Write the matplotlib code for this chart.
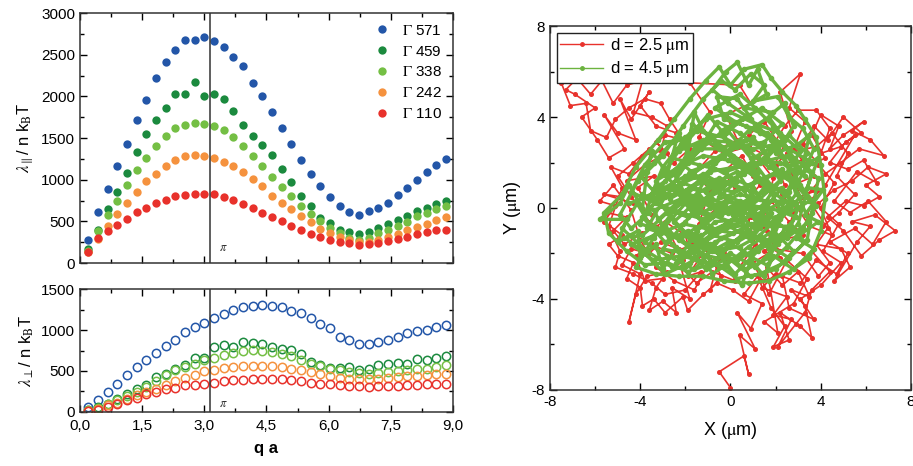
import numpy as np
import matplotlib
matplotlib.use("Agg")
import matplotlib.pyplot as plt
from matplotlib.ticker import MultipleLocator, FuncFormatter

plt.rcParams["font.family"] = ["Liberation Sans", "DejaVu Sans"]
plt.rcParams["mathtext.fontset"] = "stix"
plt.rcParams["axes.unicode_minus"] = False
plt.rcParams["xtick.direction"] = "in"
plt.rcParams["ytick.direction"] = "in"

# ---------------- data: left panels ----------------
qa = [0.20, 0.43, 0.67, 0.90, 1.13, 1.37, 1.60, 1.83, 2.07, 2.30, 2.53, 2.77, 3.00,
      3.24, 3.47, 3.70, 3.94, 4.17, 4.40, 4.64, 4.87, 5.10, 5.34, 5.57, 5.80, 6.04,
      6.27, 6.50, 6.74, 6.97, 7.20, 7.44, 7.67, 7.90, 8.14, 8.37, 8.60, 8.84]

gammas = ["571", "459", "338", "242", "110"]

par_571 = [280, 612, 888, 1160, 1432, 1716, 1960, 2216, 2416, 2552, 2672, 2672, 2708,
           2664, 2592, 2476, 2360, 2160, 2008, 1808, 1620, 1424, 1240, 1068, 920, 792,
           688, 616, 580, 628, 656, 720, 816, 896, 996, 1088, 1172, 1248]
par_459 = [168, 400, 648, 848, 1084, 1332, 1544, 1712, 1856, 2032, 2032, 2168, 2000,
           2032, 1964, 1824, 1656, 1528, 1412, 1300, 1128, 976, 800, 680, 540, 480,
           392, 372, 344, 372, 420, 472, 520, 568, 620, 664, 712, 744]
par_338 = [150, 390, 576, 740, 936, 1120, 1260, 1400, 1520, 1620, 1660, 1680, 1672,
           1640, 1592, 1512, 1400, 1288, 1168, 1028, 912, 800, 680, 592, 500, 420,
           360, 300, 280, 300, 360, 400, 440, 496, 560, 600, 648, 688]
par_242 = [132, 288, 440, 592, 720, 848, 980, 1072, 1168, 1240, 1280, 1296, 1288,
           1256, 1208, 1160, 1088, 1012, 920, 808, 724, 648, 560, 488, 408, 360,
           312, 272, 248, 256, 280, 312, 352, 392, 428, 472, 520, 552]
par_110 = [132, 296, 388, 452, 528, 608, 656, 724, 760, 800, 816, 832, 832,
           824, 788, 760, 712, 664, 600, 552, 504, 448, 400, 348, 312, 280,
           248, 240, 220, 228, 240, 264, 288, 312, 344, 372, 400, 400]

perp_571 = [61, 143, 245, 346, 448, 550, 640, 725, 803, 876, 970, 1031, 1088,
            1149, 1194, 1243, 1276, 1292, 1304, 1296, 1276, 1235, 1202, 1149, 1072, 1019,
            917, 876, 827, 827, 856, 876, 917, 958, 986, 999, 1031, 1060]
perp_459 = [20, 61, 102, 163, 216, 277, 326, 428, 461, 530, 571, 660, 664,
            787, 815, 795, 856, 844, 827, 787, 774, 754, 705, 611, 571, 542,
            538, 550, 518, 530, 579, 591, 603, 591, 648, 640, 664, 681]
perp_338 = [20, 53, 102, 143, 192, 245, 306, 379, 448, 510, 550, 591, 632,
            664, 693, 721, 742, 754, 742, 734, 713, 681, 632, 591, 558, 530,
            510, 489, 477, 469, 477, 489, 501, 510, 522, 530, 550, 571]
perp_242 = [12, 41, 82, 114, 155, 204, 245, 285, 334, 375, 420, 457, 497,
            518, 542, 550, 562, 567, 567, 558, 550, 530, 510, 489, 461, 436,
            420, 408, 399, 399, 408, 416, 428, 436, 444, 457, 461, 469]
perp_110 = [8, 29, 61, 94, 143, 175, 216, 245, 277, 298, 326, 326, 346,
            355, 375, 387, 395, 408, 408, 408, 399, 387, 375, 359, 346, 338,
            326, 318, 314, 306, 314, 314, 318, 326, 334, 338, 346, 346]

par_series = [par_571, par_459, par_338, par_242, par_110]
perp_series = [perp_571, perp_459, perp_338, perp_242, perp_110]
colors = ["#2356a8", "#1b8a3e", "#74bf44", "#f5923e", "#e8312b"]

# ---------------- data: trajectories (um) ----------------
red_xy = np.array([
    (0.0, -7.9), (-0.5, -7.2), (0.6, -6.5), (0.8, -7.3), (0.4, -5.6), (1.1, -6.2), (0.3, -4.6),
    (0.9, -5.3), (1.4, -4.2), (0.6, -3.8), (1.2, -3.0), (1.8, -4.4), (2.4, -5.2), (1.9, -6.1),
    (2.6, -5.8), (2.2, -4.6), (3.1, -5.2), (3.6, -5.7), (3.3, -4.3), (2.7, -3.6), (3.5, -3.9),
    (3.0, -2.8), (2.3, -3.4), (1.6, -2.6), (2.1, -5.5), (1.5, -5.0), (2.8, -4.2), (3.4, -3.1),
    (2.5, -2.3), (1.7, -3.8), (1.0, -2.4), (2.0, -1.8), (3.2, -2.0), (3.9, -3.0), (4.4, -2.4),
    (3.8, -1.6), (4.9, -1.8), (5.3, -2.6), (4.6, -3.2), (5.6, -1.5), (6.2, -0.8), (5.4, -0.6),
    (6.4, -0.3), (7.3, -1.0), (6.6, -1.4), (5.8, -2.1), (5.0, -1.0), (4.3, -0.4), (5.1, 0.3),
    (5.9, 0.1), (6.6, 0.5), (6.0, 1.0), (6.9, 1.5), (6.1, 1.8), (5.4, 1.2), (4.6, 0.8),
    (3.9, 0.2), (4.5, -1.2), (3.5, -0.8), (2.9, 0.1), (3.6, 0.8), (4.2, 1.5), (4.9, 2.0),
    (5.7, 2.6), (6.8, 2.3), (6.2, 3.0), (5.4, 3.4), (5.9, 3.8), (5.0, 3.2), (4.4, 2.6),
    (4.8, 3.6), (4.0, 4.1), (3.6, 3.2), (4.2, 2.2), (3.4, 1.8), (2.8, 2.6), (3.3, 3.8),
    (2.6, 4.4), (3.1, 5.9), (2.2, 5.1), (2.7, 3.4), (2.0, 2.0), (2.4, 1.0), (1.8, 0.3),
    (2.6, -0.6), (3.2, -1.2), (2.2, -1.4), (1.4, -0.8), (1.9, 1.3), (1.2, 2.2), (2.1, 2.9),
    (1.5, 3.8), (0.8, 3.2), (1.3, 1.0), (0.6, 0.2), (1.1, -1.6), (0.4, -2.6), (-0.3, -2.0),
    (0.2, -3.2), (-0.8, -2.8), (-1.5, -3.3), (-2.2, -2.6), (-1.8, -4.0), (-2.6, -3.5),
    (-2.4, -4.6), (-3.0, -4.1), (-3.6, -4.5), (-3.3, -3.5), (-2.8, -2.8), (-3.7, -3.0),
    (-4.2, -3.8), (-4.5, -5.0), (-4.0, -2.9), (-4.8, -2.5), (-4.4, -1.8), (-3.6, -2.0),
    (-3.1, -1.5), (-2.3, -1.8), (-1.7, -2.3), (-2.0, -1.2), (-2.9, -0.6), (-3.9, -1.1),
    (-4.7, -1.6), (-5.2, -1.0), (-4.6, -0.4), (-5.5, -0.2), (-4.9, 0.5), (-5.6, 0.6),
    (-4.3, 0.2), (-3.5, -0.3), (-4.1, 0.9), (-3.4, 1.4), (-4.6, 1.2), (-3.8, 1.9),
    (-2.8, 2.4), (-3.3, 2.9), (-2.5, 2.0), (-1.8, 2.6), (-2.4, 3.3), (-3.3, 3.6),
    (-4.0, 4.5), (-3.6, 5.1), (-4.4, 3.9), (-4.9, 4.8), (-4.2, 3.0), (-5.0, 3.3),
    (-5.6, 4.1), (-4.7, 2.6), (-5.4, 2.2), (-5.9, 3.0), (-6.6, 4.0), (-6.0, 4.4),
    (-6.9, 5.0), (-7.3, 5.2), (-6.8, 5.7), (-6.2, 5.0), (-5.7, 5.6), (-5.2, 4.6),
    (-4.6, 5.4), (-3.9, 5.6), (-4.3, 4.2), (-3.5, 4.0), (-2.8, 3.6), (-3.1, 2.5),
    (-3.9, 2.3), (-4.5, 1.5), (-5.3, 1.8), (-4.8, 0.9), (-5.4, -0.8), (-4.9, -1.9),
    (-5.1, -2.6), (-4.3, -2.9), (-3.5, -3.3), (-2.9, -3.8), (-2.0, -3.6), (-1.3, -2.8),
    (-1.9, -3.0), (-1.1, -1.8), (-0.4, -3.0), (-0.9, -3.6), (-0.5, -2.2), (0.3, -1.4),
    (0.9, -0.4), (1.6, -1.0), (2.2, -2.2), (1.5, -1.9), (2.5, -1.1), (2.8, -0.2),
    (2.3, 0.6), (3.0, 1.1), (3.7, 1.4), (3.2, 2.1), (2.0, 1.9), (2.5, 2.4), (3.8, 2.7),
    (4.5, 3.3), (5.2, 2.4), (4.7, 1.4), (5.5, 0.6), (4.8, -0.2), (4.1, -0.8), (3.4, -0.3),
    (3.9, 0.8), (3.1, 0.5), (2.7, 1.6), (1.7, 0.8), (1.0, 1.4), (0.5, 2.3), (-0.3, 1.6),
    (0.2, 0.8), (-0.6, 0.0), (-1.4, -0.7), (-0.9, 0.8), (-1.6, 1.5), (-0.7, 2.5),
    (0.3, 3.0), (-0.2, 4.1), (0.9, 4.6), (0.4, 5.4), (-1.8, 5.5), (-0.9, 4.2), (-1.4, 3.1),
    (-0.3, 2.4), (0.8, 2.7), (1.6, 2.3), (2.4, 3.6), (3.0, 4.3), (3.8, 4.3), (4.4, 3.5),
    (4.0, 2.4), (4.9, 2.7), (5.5, 3.2), (4.2, 1.0), (3.5, 0.3), (4.3, -0.9), (3.6, -1.9),
    (4.4, -2.8), (3.6, -3.6), (3.3, -4.6), (2.9, -5.1), (2.1, -6.1),
    (2.7, -4.9), (1.9, -4.7), (2.5, -3.9), (1.4, -3.5), (2.0, -2.9), (3.1, -3.3), (3.8, -2.3),
    (4.7, -2.9), (5.2, -2.0), (4.4, -1.5), (5.5, -0.9), (6.3, -1.6), (6.9, -0.6), (6.1, 0.3),
    (5.3, -0.2), (4.6, 0.3), (5.6, 1.6), (6.5, 1.1), (5.9, 2.1), (5.2, 1.7), (4.4, 2.0),
    (5.1, 2.9), (5.8, 3.3), (5.0, 4.0), (4.3, 3.0), (3.7, 3.6), (3.2, 2.8), (3.9, 1.9),
    (4.6, 1.1), (4.0, 0.0), (4.8, -0.7), (4.1, -1.9), (4.9, -2.4), (4.0, -3.4), (3.1, -4.0),
    (3.7, -4.9), (2.6, -4.4), (2.3, -3.0), (1.3, -3.2), (0.8, -4.1), (0.1, -3.6), (-0.6, -3.3),
    (-1.2, -3.8), (-1.9, -4.5), (-2.1, -3.9), (-2.9, -4.6), (-3.4, -4.0), (-3.9, -4.3),
    (-4.0, -3.5), (-4.6, -3.1), (-4.3, -2.4), (-5.0, -2.1), (-5.4, -1.6), (-4.8, -1.2),
    (-5.6, -0.6), (-5.1, 0.1), (-5.8, 0.3), (-5.2, 1.0), (-4.4, -0.1), (-4.0, -1.4),
    (-3.3, -2.6), (-2.5, -3.2), (-1.6, -3.6), (-1.0, -2.5), (-1.7, -1.6), (-2.6, -2.0),
    (-3.5, -1.6), (-4.2, -2.1), (-3.8, -3.2), (-3.0, -3.1), (-2.1, -2.3), (-2.7, -1.1),
    (-3.6, -0.6), (-4.4, 0.5), (-5.0, 1.4), (-4.3, 2.0), (-3.6, 2.6), (-2.9, 3.2),
    (-2.1, 3.0), (-2.7, 3.9), (-3.1, 4.6), (-3.8, 4.8), (-4.5, 4.4), (-5.1, 3.9),
    (-5.5, 3.1), (-6.2, 3.4), (-6.4, 4.6), (-7.1, 4.5), (-7.5, 5.5),
])

green_xy = np.array([
    (-0.5, 0.5), (0.3, 1.2), (-0.8, 1.8), (-1.5, 0.6), (-0.4, -0.3), (0.8, 0.4), (1.2, 1.6),
    (0.1, 2.3), (-1.0, 2.9), (-1.9, 2.0), (-2.6, 1.0), (-1.7, -0.2), (-0.6, -1.0), (0.5, -0.6),
    (1.5, 0.2), (2.2, 1.2), (1.4, 2.6), (0.4, 3.3), (-0.6, 3.8), (-1.3, 2.7), (-2.2, 2.8),
    (-3.0, 1.8), (-3.5, 0.6), (-2.6, -0.4), (-1.8, -1.4), (-0.7, -1.9), (0.4, -1.7), (1.3, -1.2),
    (2.1, -0.4), (2.9, 0.6), (2.5, 1.9), (1.8, 3.0), (0.9, 3.9), (-0.1, 4.6), (-0.8, 5.2),
    (-0.2, 6.0), (0.3, 6.4), (0.8, 5.4), (1.2, 6.1), (1.6, 5.0), (0.6, 4.4), (1.9, 4.2),
    (2.4, 4.6), (2.8, 3.6), (2.0, 2.4), (3.0, 2.8), (3.5, 3.2), (3.2, 1.9), (3.9, 2.2),
    (3.4, 0.9), (4.1, 0.8), (3.3, -0.3), (3.9, -0.6), (2.9, -1.3), (3.7, -1.8), (2.8, -2.7),
    (1.9, -2.1), (1.5, -3.0), (0.9, -2.3), (0.5, -3.4), (-0.2, -2.5), (-0.8, -2.9), (-1.3, -2.0),
    (-2.0, -2.6), (-2.4, -1.7), (-3.0, -2.7), (-3.3, -1.6), (-4.0, -2.2), (-4.1, -1.0),
    (-5.0, -1.5), (-4.6, -0.5), (-5.8, -0.5), (-4.9, 0.2), (-4.5, 1.0), (-3.9, 0.0),
    (-3.7, 1.6), (-3.5, 2.5), (-2.8, 1.5), (-2.3, 3.3), (-1.9, 2.4), (-1.6, 4.2), (-1.2, 3.4),
    (-0.4, 2.6), (0.5, 1.8), (1.4, 1.1), (2.4, 0.3), (1.9, -0.9), (1.0, -0.1), (0.0, 0.3),
    (-1.0, -0.4), (-2.0, 0.2), (-2.9, -0.8), (-3.8, -1.5), (-2.8, -2.1), (-1.6, -2.7),
    (-0.4, -1.3), (0.7, -0.9), (1.7, -1.8), (2.6, -1.0), (3.0, 0.0), (2.3, 0.9), (1.2, 0.6),
    (0.2, 1.0), (-0.9, 1.2), (-2.0, 1.4), (-3.1, 0.8), (-4.2, 0.3), (-3.6, -0.7), (-2.5, -1.2),
    (-1.3, -1.2), (-0.2, -0.7), (0.9, -1.4), (1.6, -0.5), (2.6, -0.2), (3.5, 0.3), (2.7, 1.3),
    (1.7, 1.8), (0.8, 2.5), (-0.3, 3.1), (-1.5, 3.4), (-2.6, 2.2), (-1.4, 1.9), (-0.2, 1.6),
    (1.0, 2.0), (2.2, 2.0), (3.3, 1.4), (2.4, 2.7), (1.3, 3.3), (0.2, 3.8), (-0.7, 4.4),
    (0.4, 5.0), (1.1, 4.4), (1.9, 3.6), (2.8, 2.2), (3.6, 1.6), (3.0, -0.7), (2.1, -1.6),
    (1.1, -2.6), (0.0, -2.0), (-1.0, -2.4), (-2.2, -2.1), (-3.4, -2.3), (-4.4, -1.6),
    (-3.1, -1.1), (-2.1, -0.7), (-1.1, -0.9), (0.1, -1.1), (1.2, -0.6), (0.6, 0.8),
    (-0.5, 1.3), (-1.6, 1.0), (-2.7, 0.4), (-3.3, 1.2), (-2.3, 1.8), (-1.2, 2.3), (-0.1, 2.1),
    (1.1, 1.4), (2.0, 0.6), (1.4, -0.3), (0.3, -0.2), (-0.8, 0.4), (-1.9, -0.4), (-2.9, 0.0),
    (-3.9, 0.6), (-4.8, -0.9), (-3.7, -1.9), (-2.6, -2.6), (-1.5, -1.8), (-0.5, -2.6),
    (0.6, -2.0), (1.6, -2.5), (2.5, -1.7), (3.2, -0.9), (3.8, 0.1), (3.1, 1.0), (2.0, 1.5),
    (0.9, 1.0), (-0.2, 0.5), (-1.3, 0.1), (-2.4, 0.7), (-1.8, 1.6), (-0.7, 2.0), (0.3, 2.7),
    (1.5, 2.9), (2.3, 3.7), (1.4, 4.4), (0.5, 3.9), (-0.4, 3.4), (-1.0, 4.1), (-1.9, 3.0),
    (-2.9, 2.9), (-3.8, 1.9), (-4.4, 0.7), (-3.3, 0.2), (-2.2, -0.2), (-1.2, -0.5),
    (-0.1, -0.2), (1.0, 0.1), (2.1, -0.1), (2.9, -0.4), (2.2, -1.2), (1.2, -1.9), (0.2, -2.9),
    (-0.9, -1.6), (-1.9, -1.0), (-2.9, -1.5), (-3.9, -0.4), (-2.8, 0.9), (-1.7, 0.4),
    (-0.6, 0.1), (0.5, -0.3), (1.5, 0.9), (2.6, 0.7), (3.4, 2.4), (2.6, 3.2), (1.6, 2.2),
    (0.6, 1.5), (-0.6, 0.9), (-1.7, -0.1), (-0.8, -1.2), (0.3, -1.5), (1.3, -0.9), (0.7, 0.1),
    (-0.4, -0.1), (-1.5, 0.3), (-2.5, -0.6), (-1.4, -1.6), (-0.3, -1.8), (0.8, -1.0),
    (1.8, -0.2), (1.0, 0.9), (-0.1, 1.4), (-1.1, 0.7), (-2.1, 1.1), (-1.2, 1.5), (-0.3, 1.0),
    (0.9, 1.7), (1.9, 2.6), (0.7, 3.0), (-0.5, 2.6), (-1.6, 2.6), (-2.5, 1.5), (-1.5, -0.3),
    (-0.4, 0.2), (0.6, -0.5), (-0.7, -0.6), (-1.8, -1.9), (-0.6, -2.2), (0.5, -1.2),
    (1.7, -1.4), (2.7, 0.3), (1.6, 0.3), (0.4, 0.6), (-0.9, 0.0),
    (-1.6, 0.9), (-2.4, 0.2), (-3.2, -0.5), (-2.3, -1.4), (-1.2, -2.1), (-0.1, -1.5),
    (0.9, -2.1), (1.9, -1.3), (2.3, -0.3), (1.6, 1.1), (0.5, 2.0), (-0.6, 2.9), (-1.7, 3.7),
    (-2.0, 2.2), (-2.9, 1.2), (-3.6, -0.2), (-4.4, -0.9), (-4.9, -0.3), (-4.1, 1.2),
    (-3.0, 2.3), (-2.1, 3.6), (-1.2, 4.8), (-0.4, 5.6), (0.2, 5.2), (0.9, 5.9), (1.5, 5.4),
    (1.0, 4.7), (2.1, 4.9), (2.6, 4.0), (3.2, 3.5), (3.7, 2.6), (3.3, 1.7), (3.9, 1.3),
    (3.6, -0.2), (3.4, -1.4), (2.4, -2.4), (1.3, -2.9), (0.3, -3.1), (-0.7, -2.4),
    (-1.9, -2.8), (-2.8, -2.4), (-3.8, -2.5), (-4.6, -1.9), (-5.4, -1.1), (-5.6, -0.2),
    (-4.8, 0.6), (-4.2, 1.8), (-3.2, 3.0), (-2.5, 3.9), (-1.8, 4.8), (-1.1, 5.6), (-0.5, 6.2),
    (0.0, 5.4), (0.6, 6.1), (1.4, 6.3), (1.8, 5.7), (2.3, 5.1), (2.9, 4.5), (3.3, 3.9),
    (3.8, 3.1), (4.0, 1.9), (4.2, 0.4), (4.0, -1.0), (3.5, -2.2), (2.6, -2.8), (1.7, -3.2),
    (0.8, -3.3), (-0.3, -3.2), (-1.2, -3.0), (-2.3, -3.0), (-3.3, -2.9), (-4.2, -2.6),
    (-3.4, -1.3), (-2.5, -0.1), (-1.4, 1.2), (-0.3, 2.3), (0.8, 3.4), (1.7, 4.0), (2.4, 3.0),
    (1.2, 2.3), (0.2, 1.3), (-0.9, 0.5), (-2.0, -0.6), (-3.0, -1.8), (-2.0, -2.0),
    (-0.9, -1.2), (0.2, -0.4), (1.3, 0.4), (2.4, 1.4), (3.1, 2.5), (2.2, 3.3), (1.1, 3.7),
    (0.0, 4.2), (-1.1, 3.9), (-2.0, 3.1), (-2.6, 2.9), (-3.4, 2.0), (-4.0, 1.4), (-3.1, 0.4),
    (-2.2, 1.1), (-1.1, 1.9), (0.0, 2.6), (1.0, 3.1), (1.9, 1.9), (2.8, 1.0), (3.5, -0.6),
    (2.5, -1.3), (1.4, -1.6), (0.3, -2.3), (-0.8, -1.9), (-1.9, -1.6), (-3.0, -1.0),
    (-4.0, -0.7), (-3.3, 0.9), (-2.3, 1.6), (-1.3, 2.6), (-0.2, 3.5), (0.9, 2.2), (1.8, 1.0),
    (2.9, 0.2), (2.0, -0.6), (0.9, -0.7), (-0.2, -0.9), (-1.3, -1.6), (-2.4, -2.4),
    (-1.5, -1.0), (-0.6, -0.3), (0.4, 0.3), (1.5, -0.1), (2.4, -0.9), (1.7, -2.2), (0.7, -2.7),
    (-0.4, -2.0), (-1.6, -1.3), (-2.7, -1.2), (-3.7, -0.9), (-2.9, 0.5), (-1.9, 0.8),
    (-0.9, 1.6), (0.2, 1.8), (1.3, 2.0), (2.5, 2.3), (3.0, 1.6), (2.2, 0.2), (1.1, -0.3),
    (0.0, -0.6), (-1.1, -0.2), (-2.2, 0.4), (-3.4, -0.1), (-2.6, -1.6), (-1.5, -2.3),
    (-0.3, -2.6), (0.8, -1.7), (1.9, -1.0), (2.8, -1.9), (2.0, -2.7), (0.9, -3.0), (-0.1, -2.2),
    (-1.1, -2.7), (-2.2, -1.3), (-1.1, -0.6), (0.0, 0.0), (1.1, -0.9), (2.2, -0.5), (3.1, 0.5),
    (2.3, 1.7), (1.2, 1.2), (0.1, 0.7), (-1.0, 1.0), (-2.1, 1.9), (-1.3, 2.9), (-0.2, 3.3),
    (0.8, 4.1), (0.3, 4.8), (-0.6, 4.9), (-0.3, 3.9), (0.7, 3.6), (1.6, 3.3), (2.6, 2.6),
    (3.6, 2.0), (3.0, 1.2), (2.0, 2.8), (1.0, 2.6), (-0.1, 2.9), (-1.2, 3.0), (-2.3, 2.5),
    (-3.0, 1.5), (-2.1, 0.7), (-1.0, 0.3), (0.1, -0.3), (1.0, 0.5), (0.3, 1.6), (-0.7, 1.1),
    (-1.7, 0.5), (-2.8, -0.2), (-3.9, -1.2), (-4.7, -1.3), (-3.9, -1.9), (-2.9, -2.9),
    (-1.8, -2.4), (-0.7, -1.5), (0.4, -1.0), (1.5, -1.5), (2.6, -2.2), (3.3, -1.5),
    (2.7, -0.8), (1.6, -0.8), (0.6, 0.2), (-0.5, 0.7), (-1.6, 0.2), (-2.7, 0.9), (-3.7, 0.5),
    (-4.5, 0.2),
])

# ---------------- figure ----------------
fig = plt.figure(figsize=(9.13, 4.66), dpi=100)
ax_top = fig.add_axes([0.0876, 0.4356, 0.4085, 0.5365])
ax_bot = fig.add_axes([0.0876, 0.1159, 0.4085, 0.2639])
ax_rw = fig.add_axes([0.6024, 0.1631, 0.3954, 0.7811])

comma = FuncFormatter(lambda v, p: f"{v:.1f}".replace(".", ","))

for i in range(len(gammas)):
    ax_top.plot(qa, par_series[i], "o", color=colors[i], ms=6, mec="none",
                label=r"$\mathrm{\Gamma}$ " + gammas[i])
    ax_bot.plot(qa, perp_series[i], "o", mfc="none", mec=colors[i], ms=6, mew=1.1)

for ax in (ax_top, ax_bot):
    ax.axvline(np.pi, color="#333333", lw=1.1)
    ax.set_xlim(0, 9)
    ax.xaxis.set_major_locator(MultipleLocator(1.5))
    ax.xaxis.set_minor_locator(MultipleLocator(0.75))
    ax.yaxis.set_major_locator(MultipleLocator(500))
    ax.yaxis.set_minor_locator(MultipleLocator(250))
    ax.tick_params(which="both", top=True, right=True, labelsize=11, width=1.0)
    ax.tick_params(which="major", length=5)
    ax.tick_params(which="minor", length=3)
    for s in ax.spines.values():
        s.set_linewidth(1.1)
        s.set_color("#333333")

ax_top.set_ylim(0, 3000)
ax_top.tick_params(labelbottom=False)
ax_top.text(3.35, 150, r"$\pi$", fontsize=9, color="#333333")
ax_top.set_ylabel(r"$\lambda_{\parallel}$/ n k$_\mathrm{B}$T", fontsize=12, labelpad=4)
ax_top.legend(loc="upper right", frameon=False, fontsize=11, handletextpad=0.8,
              labelspacing=0.45, borderaxespad=0.3, handlelength=1.0)

ax_bot.set_ylim(0, 1500)
ax_bot.xaxis.set_major_formatter(comma)
ax_bot.text(3.35, 60, r"$\pi$", fontsize=9, color="#333333")
ax_bot.set_ylabel(r"$\lambda_{\perp}$/ n k$_\mathrm{B}$T", fontsize=12, labelpad=4)
ax_bot.set_xlabel("q a", fontsize=12, fontweight="bold", labelpad=6)
ax_bot.tick_params(axis="x", pad=5)

# ---------------- right panel ----------------
ax_rw.plot(red_xy[:, 0], red_xy[:, 1], "-o", color="#e8322c", lw=1.2, ms=2.6,
           label=r"d = 2.5 $\mathrm{\mu}$m")
ax_rw.plot(green_xy[:, 0], green_xy[:, 1], "-o", color="#6cb33f", lw=2.4, ms=3.0,
           label=r"d = 4.5 $\mathrm{\mu}$m")
ax_rw.set_xlim(-8, 8)
ax_rw.set_ylim(-8, 8)
ax_rw.xaxis.set_major_locator(MultipleLocator(4))
ax_rw.xaxis.set_minor_locator(MultipleLocator(2))
ax_rw.yaxis.set_major_locator(MultipleLocator(4))
ax_rw.yaxis.set_minor_locator(MultipleLocator(2))
ax_rw.tick_params(which="both", top=True, right=True, labelsize=11, width=1.0)
ax_rw.tick_params(which="major", length=5)
ax_rw.tick_params(which="minor", length=3)
for s in ax_rw.spines.values():
    s.set_linewidth(1.1)
    s.set_color("#333333")
ax_rw.set_xlabel(r"X ($\mathrm{\mu}$m)", fontsize=13, labelpad=8)
ax_rw.set_ylabel(r"Y ($\mathrm{\mu}$m)", fontsize=13, labelpad=6)
leg = ax_rw.legend(loc="upper left", fontsize=12, frameon=True, fancybox=False,
                   borderaxespad=0.4, handlelength=2.6, borderpad=0.2,
                   labelspacing=0.2, handletextpad=0.4, framealpha=1)
leg.get_frame().set_edgecolor("#222222")
leg.get_frame().set_linewidth(1.0)
for ln in leg.get_lines():
    ln.set_linewidth(1.0)
    ln.set_markersize(2.5)

fig.savefig("out.png", dpi=100)
